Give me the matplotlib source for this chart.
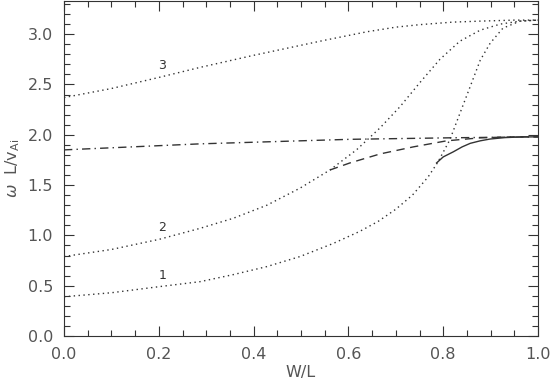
import numpy as np
import matplotlib
matplotlib.use("Agg")
import matplotlib.pyplot as plt
from matplotlib.ticker import MultipleLocator, FormatStrFormatter

# Curve 1 (dotted)
x1 = [0.0, 0.1, 0.2, 0.287, 0.357, 0.428, 0.498, 0.568, 0.624, 0.663, 0.70, 0.735,
      0.768, 0.789, 0.814, 0.835, 0.857, 0.878, 0.899, 0.926, 0.962, 1.0]
y1 = [0.39, 0.43, 0.49, 0.54, 0.61, 0.69, 0.79, 0.92, 1.04, 1.14, 1.26, 1.40,
      1.58, 1.73, 1.95, 2.21, 2.48, 2.74, 2.91, 3.06, 3.13, 3.14]
# Curve 2 (dotted)
x2 = [0.0, 0.1, 0.2, 0.287, 0.357, 0.428, 0.498, 0.561, 0.617, 0.667, 0.709,
      0.751, 0.793, 0.835, 0.878, 0.92, 0.962, 1.0]
y2 = [0.79, 0.86, 0.96, 1.07, 1.17, 1.30, 1.47, 1.65, 1.85, 2.07, 2.28,
      2.52, 2.75, 2.93, 3.04, 3.10, 3.13, 3.14]
# Curve 3 (dotted)
x3 = [0.0, 0.1, 0.2, 0.287, 0.4, 0.5, 0.55, 0.603, 0.64, 0.667, 0.70, 0.751,
      0.82, 0.878, 0.95, 1.0]
y3 = [2.37, 2.46, 2.57, 2.67, 2.79, 2.89, 2.94, 2.99, 3.025, 3.045, 3.07, 3.095,
      3.12, 3.13, 3.14, 3.14]
# Dash-dot line
x4 = [0.0, 0.287, 0.603, 0.814, 1.0]
y4 = [1.85, 1.91, 1.955, 1.97, 1.98]
# Dashed line
x5 = [0.561, 0.603, 0.667, 0.737, 0.807, 0.878, 0.95, 1.0]
y5 = [1.65, 1.72, 1.81, 1.88, 1.94, 1.97, 1.98, 1.98]
# Solid line
x6 = [0.786, 0.80, 0.821, 0.84, 0.857, 0.878, 0.899, 0.93, 0.96, 1.0]
y6 = [1.72, 1.78, 1.83, 1.88, 1.915, 1.94, 1.958, 1.972, 1.978, 1.98]

labels = ["1", "2", "3"]
label_x = [0.207, 0.207, 0.207]
label_y = [0.60, 1.08, 2.69]

col = "#333333"
tcol = "#555555"
plt.rcParams['font.family'] = ['DejaVu Sans']
fig = plt.figure(figsize=(5.51, 3.89), dpi=100)
ax = fig.add_axes([64/551, 53/389, (538-64)/551, (388-53)/389])

lw = 1.0
dot = (0, (1, 2.5))
ax.plot(x1, y1, color=col, lw=lw, linestyle=dot)
ax.plot(x2, y2, color=col, lw=lw, linestyle=dot)
ax.plot(x3, y3, color=col, lw=lw, linestyle=dot)
ax.plot(x4, y4, color=col, lw=lw, linestyle=(0, (6, 3, 1, 3)))
ax.plot(x5, y5, color=col, lw=lw, linestyle=(0, (6, 4)))
ax.plot(x6, y6, color=col, lw=lw, linestyle='-')

for t, xx, yy in zip(labels, label_x, label_y):
    ax.text(xx, yy, t, color=col, fontsize=9, ha='center', va='center')

ax.set_xlim(0, 1.0)
ax.set_ylim(0, 3.33)
ax.xaxis.set_major_locator(MultipleLocator(0.2))
ax.xaxis.set_minor_locator(MultipleLocator(0.05))
ax.yaxis.set_major_locator(MultipleLocator(0.5))
ax.yaxis.set_minor_locator(MultipleLocator(0.1))
ax.xaxis.set_major_formatter(FormatStrFormatter('%.1f'))
ax.yaxis.set_major_formatter(FormatStrFormatter('%.1f'))
ax.tick_params(which='both', direction='in', top=True, right=True, color=col,
               labelcolor=tcol, labelsize=11.5, width=0.8)
ax.tick_params(which='major', length=7, pad=8)
ax.tick_params(which='minor', length=4)
for s in ax.spines.values():
    s.set_color(col)
    s.set_linewidth(0.8)
ax.set_xlabel("W/L", color=tcol, fontsize=11.5, labelpad=2)
ax.set_ylabel(r"$\omega$  L/v$_{\mathregular{Ai}}$", color=tcol, fontsize=11.5, labelpad=4)
fig.savefig("out.png", dpi=100)
